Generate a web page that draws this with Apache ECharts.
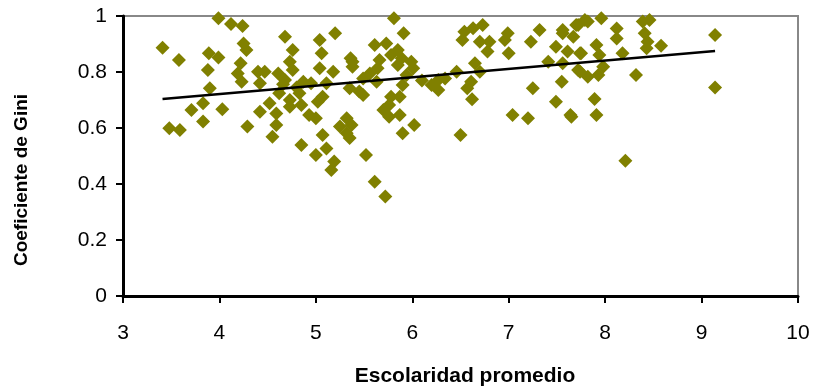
<!DOCTYPE html>
<html>
<head>
<meta charset="utf-8">
<script src="https://cdn.jsdelivr.net/npm/echarts@6/dist/echarts.min.js"></script>
<style>
  html, body { margin: 0; padding: 0; background: #fff; }
  #chart { width: 814px; height: 387px; }
</style>
</head>
<body>
<div id="chart"></div>
<script>
// Escolaridad promedio (x) y coeficiente de Gini (y)
const escolaridad = [
  3.41, 3.58, 3.99, 4.12, 4.24, 3.89, 3.99, 3.88, 4.25, 4.28,
  4.22, 4.19, 4.23, 3.90, 3.83, 3.71, 4.03, 3.83, 3.48, 3.59,
  4.29, 4.40, 4.47, 4.42, 4.61, 4.68, 4.76, 4.73, 4.76, 4.68,
  4.62, 4.73, 4.83, 4.87, 5.04, 5.06, 5.04, 5.18, 5.20, 5.36,
  5.38, 5.35, 5.07, 5.02, 4.85, 4.73, 4.52, 4.42, 4.59, 4.59,
  4.55, 4.85, 4.93, 5.00, 5.07, 5.00, 5.11, 5.19, 5.16, 5.25,
  5.32, 5.32, 5.81, 5.91, 5.61, 5.73, 5.85, 5.78, 5.89, 5.66,
  5.64, 5.99, 6.01, 5.85, 5.56, 5.38, 5.49, 5.63, 5.45, 5.78,
  5.87, 5.90, 5.94, 5.70, 5.76, 5.87, 6.02, 5.90, 5.37, 5.35,
  5.52, 5.61, 5.72, 6.20, 6.27, 6.34, 6.27, 6.46, 6.65, 6.70,
  6.61, 6.57, 6.62, 6.50, 6.54, 6.63, 6.73, 6.52, 6.70, 6.80,
  6.78, 6.99, 6.96, 7.00, 7.23, 7.32, 7.04, 7.20, 7.25, 7.41,
  7.49, 7.55, 7.64, 7.49, 7.56, 7.61, 7.56, 7.74, 7.74, 7.70,
  7.79, 7.72, 7.82, 7.96, 7.67, 7.91, 7.75, 7.94, 7.98, 7.72,
  7.82, 7.93, 8.12, 8.12, 8.18, 8.32, 8.39, 8.46, 8.41, 8.44,
  8.43, 8.58, 9.14, 9.14, 7.89, 7.91, 7.65, 8.21, 5.49, 5.11,
  5.76, 7.56, 4.66, 4.80, 4.95, 6.10
];
const gini = [
  0.887, 0.843, 0.992, 0.971, 0.964, 0.867, 0.852, 0.807, 0.902, 0.879,
  0.831, 0.795, 0.765, 0.742, 0.688, 0.664, 0.667, 0.623, 0.599, 0.593,
  0.605, 0.801, 0.801, 0.760, 0.795, 0.926, 0.879, 0.837, 0.807, 0.771,
  0.724, 0.700, 0.724, 0.765, 0.914, 0.867, 0.813, 0.801, 0.938, 0.849,
  0.819, 0.742, 0.712, 0.694, 0.682, 0.676, 0.688, 0.658, 0.652, 0.611,
  0.569, 0.539, 0.646, 0.635, 0.575, 0.504, 0.527, 0.480, 0.450, 0.605,
  0.635, 0.581, 0.992, 0.938, 0.896, 0.902, 0.879, 0.861, 0.849, 0.843,
  0.813, 0.837, 0.813, 0.825, 0.795, 0.837, 0.777, 0.765, 0.730, 0.712,
  0.712, 0.754, 0.789, 0.664, 0.640, 0.646, 0.611, 0.581, 0.611, 0.564,
  0.504, 0.408, 0.355, 0.754, 0.736, 0.777, 0.771, 0.801, 0.831, 0.801,
  0.765, 0.742, 0.703, 0.575, 0.944, 0.956, 0.968, 0.914, 0.908, 0.908,
  0.873, 0.938, 0.914, 0.867, 0.908, 0.950, 0.646, 0.635, 0.742, 0.837,
  0.694, 0.765, 0.646, 0.890, 0.938, 0.873, 0.831, 0.867, 0.801, 0.968,
  0.986, 0.968, 0.980, 0.992, 0.926, 0.896, 0.867, 0.861, 0.819, 0.807,
  0.783, 0.789, 0.955, 0.920, 0.867, 0.789, 0.980, 0.986, 0.938, 0.908,
  0.885, 0.894, 0.932, 0.745, 0.704, 0.646, 0.640, 0.483, 0.718, 0.760,
  0.682, 0.950, 0.756, 0.745, 0.760, 0.770
];
// Linea de tendencia: extremos
const tendenciaX = [3.41, 9.14];
const tendenciaY = [0.704, 0.875];

const font = '"Liberation Sans", Arial, sans-serif';
const chart = echarts.init(document.getElementById('chart'));
chart.setOption({
  animation: false,
  grid: {
    left: 123, right: 16, top: 16, bottom: 91,
    show: true, borderColor: '#888', borderWidth: 2, backgroundColor: '#fff'
  },
  xAxis: {
    type: 'value', min: 3, max: 10, interval: 1,
    axisLine: { lineStyle: { color: '#000', width: 3 } },
    axisTick: { show: true, length: 7, lineStyle: { color: '#000', width: 2 } },
    splitLine: { show: false },
    axisLabel: { color: '#000', fontSize: 21, fontFamily: font, margin: 27 }
  },
  yAxis: {
    type: 'value', min: 0, max: 1, interval: 0.2,
    axisLine: { show: true, lineStyle: { color: '#000', width: 3 } },
    axisTick: { show: true, length: 7, lineStyle: { color: '#000', width: 2 } },
    splitLine: { show: false },
    axisLabel: { color: '#000', fontSize: 21, fontFamily: font, margin: 16 }
  },
  graphic: [
    {
      type: 'text', x: 465, y: 376,
      style: {
        text: 'Escolaridad promedio', font: 'bold 21px ' + font, fill: '#000',
        align: 'center', verticalAlign: 'middle'
      }
    },
    {
      type: 'text', x: 22, y: 180, rotation: Math.PI / 2,
      style: {
        text: 'Coeficiente de Gini', font: 'bold 19px ' + font, fill: '#000',
        align: 'center', verticalAlign: 'middle'
      }
    }
  ],
  series: [
    {
      type: 'scatter',
      symbol: 'diamond',
      symbolSize: 14,
      itemStyle: { color: '#808000', opacity: 1 },
      data: escolaridad.map((x, i) => [x, gini[i]])
    },
    {
      type: 'line',
      showSymbol: false,
      lineStyle: { color: '#000', width: 2.5 },
      data: tendenciaX.map((x, i) => [x, tendenciaY[i]])
    }
  ]
});
</script>
</body>
</html>
